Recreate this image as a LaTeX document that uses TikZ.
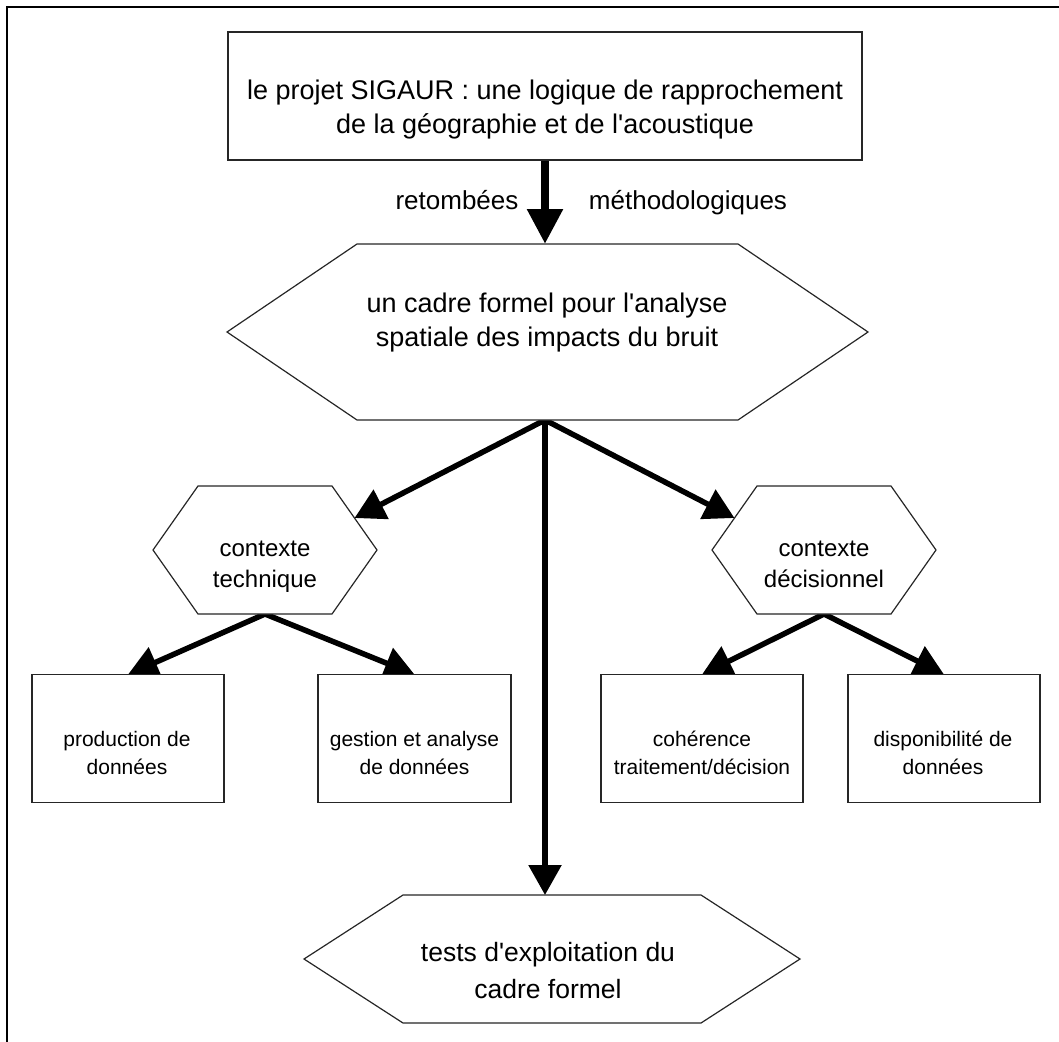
\documentclass[tikz,border=0pt]{standalone}
\usepackage{fontspec}
\setmainfont{Liberation Sans}
\usetikzlibrary{arrows.meta,calc,backgrounds}

% hexagon outline drawn inside the bounding node #1, with corner inset #2
\newcommand\hexoutline[2]{%
  \draw[outline] (#1.west) -- ($(#1.north west)+(#2,0)$) -- ($(#1.north east)+(-#2,0)$)
    -- (#1.east) -- ($(#1.south east)+(-#2,0)$) -- ($(#1.south west)+(#2,0)$) -- cycle;}
% straight apostrophe
\newcommand\apos{\textquotesingle}

\begin{document}
\begin{tikzpicture}[x=1pt,y=-1pt,
  outline/.style={draw=black!85,line width=1.2pt,fill=white},
  boxnode/.style={outline,rectangle,inner sep=0pt,outer sep=0pt,minimum width=#1,minimum height=128pt},
  hexarea/.style={rectangle,inner sep=0pt,outer sep=0pt},
  link/.style={line width=5.5pt,-{Triangle[length=30pt,width=32pt]}},
  mainlink/.style={line width=8.5pt,-{Triangle[length=35pt,width=34pt]}},
  largetext/.style={font=\fontsize{27}{34}\selectfont,align=center,inner sep=0pt},
  midtext/.style={font=\fontsize{24}{31}\selectfont,align=center,inner sep=0pt},
  smalltext/.style={font=\fontsize{21}{28}\selectfont,align=center,inner sep=0pt},
  frameline/.style={line width=2.5pt,line cap=rect},
]
\useasboundingbox (0,0) rectangle (1059,1041);

% outer frame (left and top sides)
\draw[frameline] (7,1045) -- (7,7) -- (1065,7);

% shapes
\node[boxnode=634pt] (top) at (545,96) {};
\node[hexarea,minimum width=641pt,minimum height=176pt] (big) at (547.5,332) {};
\node[hexarea,minimum width=224pt,minimum height=128pt] (tech) at (265,550) {};
\node[hexarea,minimum width=224pt,minimum height=128pt] (dec) at (824,550) {};
\node[boxnode=192pt] (prod) at (128,738.5) {};
\node[boxnode=193pt] (gest) at (414.5,738.5) {};
\node[boxnode=202pt] (coh) at (702,738.5) {};
\node[boxnode=192pt] (disp) at (944,738.5) {};
\node[hexarea,minimum width=496pt,minimum height=128pt] (bot) at (552,959) {};

\hexoutline{big}{130}
\hexoutline{tech}{45}
\hexoutline{dec}{45}
\hexoutline{bot}{99}

% texts
\node[largetext] (toptxt) at (545,109.5) {le projet SIGAUR : une logique de rapprochement\\de la géographie et de l\apos acoustique};
\node[font=\fontsize{26}{31}\selectfont,inner sep=0pt,anchor=base] (ret) at (457,209) {retombées};
\node[font=\fontsize{26}{31}\selectfont,inner sep=0pt,anchor=base] (meth) at (688,209) {méthodologiques};
\node[largetext] (bigtxt) at (547,323) {un cadre formel pour l\apos analyse\\ spatiale des impacts du bruit};
\node[midtext] (techtxt) at (265,567) {contexte\\technique};
\node[midtext] (dectxt) at (824,564) {contexte\\décisionnel};
\node[smalltext] (prodtxt) at (127,752.5) {production de\\données};
\node[smalltext] (gesttxt) at (414.5,752.5) {gestion et analyse\\de données};
\node[smalltext] (cohtxt) at (702,752.5) {cohérence\\traitement/décision};
\node[smalltext] (disptxt) at (943,752.5) {disponibilité de\\données};
\node[font=\fontsize{26.5}{37}\selectfont,align=center,inner sep=0pt] (bottxt) at (548,970.5) {tests d\apos exploitation du\\cadre formel};

% connectors, kept behind the shapes
\begin{scope}[on background layer]
\coordinate (fork) at (top.south |- big.south);
\draw[mainlink] (top.south) -- (top.south |- big.north);
\draw[link] (fork) -- ($(tech.north east)!0.5!(tech.east)+(-22.5,0)$);
\draw[link] (fork) -- ($(dec.north west)!0.5!(dec.west)+(22.5,0)$);
\draw[link] (fork) -- (fork |- bot.north);
\draw[link] (tech.south) -- (prod.north);
\draw[link] (tech.south) -- (gest.north);
\draw[link] (dec.south) -- (coh.north);
\draw[link] (dec.south) -- (disp.north);
\end{scope}
\end{tikzpicture}
\end{document}
